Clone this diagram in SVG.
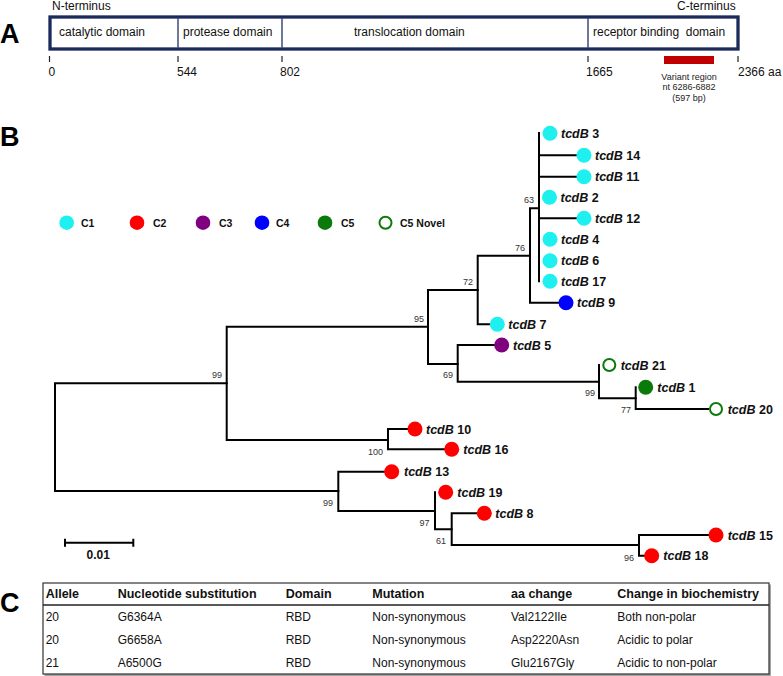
<svg xmlns="http://www.w3.org/2000/svg" width="783" height="676" viewBox="0 0 783 676">
<style>
text{font-family:"Liberation Sans",Arial,sans-serif;}
.pl{font-size:27px;font-weight:bold;fill:#000;}
.dl{font-size:12px;fill:#111;}
.tk{stroke:#222;stroke-width:1.2;}
.vr{font-size:9px;fill:#222;text-anchor:middle;}
.lg{font-size:10.5px;font-weight:bold;fill:#111;}
.lf{font-size:12.5px;font-weight:bold;fill:#111;}
.lf tspan.g{font-style:italic;}
.bs{font-size:9px;fill:#333;text-anchor:end;}
.br{fill:none;stroke:#000;stroke-width:2;stroke-linecap:square;}
.c1{fill:#1ef0f0;}
.c2{fill:#ff0000;}
.c3{fill:#800080;}
.c4{fill:#0000ff;}
.c5{fill:#0a7a0a;}
.cn{fill:#fff;stroke:#0a7a0a;stroke-width:2;}
.th{font-size:12.5px;font-weight:bold;fill:#111;}
.td{font-size:12px;fill:#111;}
</style>
<rect width="783" height="676" fill="#fff"/>

<!-- Panel A -->
<g id="panelA">
<text class="pl" x="0" y="43">A</text>
<text class="dl" x="52" y="9.5">N-terminus</text>
<text class="dl" x="677" y="9.5">C-terminus</text>
<rect x="50" y="17" width="688" height="32" fill="#fff" stroke="#1b2a5a" stroke-width="3.3"/>
<g stroke="#3d4c78" stroke-width="1.5">
<line x1="178" y1="18" x2="178" y2="48"/>
<line x1="282" y1="18" x2="282" y2="48"/>
<line x1="588" y1="18" x2="588" y2="48"/>
</g>
<text class="dl" x="59" y="36">catalytic domain</text>
<text class="dl" x="183" y="36">protease domain</text>
<text class="dl" x="354" y="36">translocation domain</text>
<text class="dl" x="593" y="36" xml:space="preserve">receptor binding  domain</text>
<line class="tk" x1="49.5" y1="56" x2="49.5" y2="62"/>
<line class="tk" x1="178" y1="56" x2="178" y2="62"/>
<line class="tk" x1="282" y1="56" x2="282" y2="62"/>
<line class="tk" x1="588" y1="56" x2="588" y2="62"/>
<line class="tk" x1="738" y1="56" x2="738" y2="62"/>
<text class="dl" x="48.5" y="76">0</text>
<text class="dl" x="177" y="76">544</text>
<text class="dl" x="280" y="76">802</text>
<text class="dl" x="586" y="76">1665</text>
<text class="dl" x="738" y="76">2366 aa</text>
<rect x="664" y="56" width="50" height="8" fill="#c00000"/>
<text class="vr" x="689" y="79.5">Variant region</text>
<text class="vr" x="689" y="90">nt 6286-6882</text>
<text class="vr" x="689" y="100.5">(597 bp)</text>
</g>

<!-- Panel B -->
<text class="pl" x="0" y="145.5">B</text>
<g id="legend">
<circle class="c1" cx="66.7" cy="222.7" r="7.3"/><text class="lg" x="81" y="226.5">C1</text>
<circle class="c2" cx="137" cy="222.7" r="7.3"/><text class="lg" x="153" y="226.5">C2</text>
<circle class="c3" cx="203" cy="222.7" r="7.3"/><text class="lg" x="219" y="226.5">C3</text>
<circle class="c4" cx="262" cy="222.7" r="7.3"/><text class="lg" x="276" y="226.5">C4</text>
<circle class="c5" cx="325" cy="222.7" r="7.3"/><text class="lg" x="341" y="226.5">C5</text>
<circle class="cn" cx="385.5" cy="222.7" r="6"/><text class="lg" x="400" y="226.5">C5 Novel</text>
</g>

<g id="connectors">
<path class="br" d="M55,383.3 V491 M55,383.3 H226.7 M55,491 H338.3"/>
<path class="br" d="M226.7,326.7 V440 M226.7,326.7 H428 M226.7,440 H388"/>
<path class="br" d="M428,290 V364 M428,290 H477.7 M428,364 H457.7"/>
<path class="br" d="M477.7,255.7 V324.3 M477.7,255.7 H530 M477.7,324.3 H490"/>
<path class="br" d="M530,208.3 V302.7 M530,208.3 H539 M530,302.7 H559"/>
<path class="br" d="M539,133 V281.3 M539,155.3 H576 M539,176.7 H576 M539,218.3 H576"/>
<path class="br" d="M457.7,345 V381.7 M457.7,345 H494 M457.7,381.7 H599"/>
<path class="br" d="M599,365 V398.3 M599,398.3 H635.7"/>
<path class="br" d="M635.7,387.3 V409 M635.7,409 H708"/>
<path class="br" d="M388,429 V449.3 M388,429 H407 M388,449.3 H444"/>
<path class="br" d="M338.3,471.7 V511 M338.3,471.7 H384 M338.3,511 H435"/>
<path class="br" d="M435,492.3 V529.3 M435,529.3 H451.7"/>
<path class="br" d="M451.7,513.3 V545 M451.7,513.3 H477 M451.7,545 H639"/>
<path class="br" d="M639,535 V555.7 M639,535 H708 M639,555.7 H644"/>
</g>

<g id="bootstrap">
<text class="bs" x="534" y="203">63</text>
<text class="bs" x="525" y="251">76</text>
<text class="bs" x="473" y="285">72</text>
<text class="bs" x="424" y="321.5">95</text>
<text class="bs" x="222" y="378">99</text>
<text class="bs" x="453" y="378">69</text>
<text class="bs" x="595" y="396">99</text>
<text class="bs" x="631" y="412.7">77</text>
<text class="bs" x="383" y="455">100</text>
<text class="bs" x="333" y="505.7">99</text>
<text class="bs" x="429.5" y="525.7">97</text>
<text class="bs" x="446" y="544">61</text>
<text class="bs" x="634" y="560.7">96</text>
</g>

<g id="tcdB3"><circle class="c1" cx="550" cy="133.3" r="7.5"/><text class="lf" x="561" y="137.8"><tspan class="g">tcdB</tspan> 3</text></g>
<g id="tcdB14"><circle class="c1" cx="584" cy="155.3" r="7.5"/><text class="lf" x="595" y="159.8"><tspan class="g">tcdB</tspan> 14</text></g>
<g id="tcdB11"><circle class="c1" cx="584" cy="176.7" r="7.5"/><text class="lf" x="595" y="181.2"><tspan class="g">tcdB</tspan> 11</text></g>
<g id="tcdB2"><circle class="c1" cx="549.5" cy="197.3" r="7.5"/><text class="lf" x="560.5" y="201.8"><tspan class="g">tcdB</tspan> 2</text></g>
<g id="tcdB12"><circle class="c1" cx="584" cy="218.3" r="7.5"/><text class="lf" x="595" y="222.8"><tspan class="g">tcdB</tspan> 12</text></g>
<g id="tcdB4"><circle class="c1" cx="550" cy="239.3" r="7.5"/><text class="lf" x="561" y="243.8"><tspan class="g">tcdB</tspan> 4</text></g>
<g id="tcdB6"><circle class="c1" cx="550" cy="260.7" r="7.5"/><text class="lf" x="561" y="265.2"><tspan class="g">tcdB</tspan> 6</text></g>
<g id="tcdB17"><circle class="c1" cx="550" cy="281.3" r="7.5"/><text class="lf" x="561" y="285.8"><tspan class="g">tcdB</tspan> 17</text></g>
<g id="tcdB9"><circle class="c4" cx="566" cy="302.7" r="7.5"/><text class="lf" x="577" y="307.2"><tspan class="g">tcdB</tspan> 9</text></g>
<g id="tcdB7"><circle class="c1" cx="497.3" cy="324.3" r="7.5"/><text class="lf" x="508.3" y="328.8"><tspan class="g">tcdB</tspan> 7</text></g>
<g id="tcdB5"><circle class="c3" cx="501.7" cy="345" r="7.5"/><text class="lf" x="513" y="349.5"><tspan class="g">tcdB</tspan> 5</text></g>
<g id="tcdB21"><circle class="cn" cx="609.3" cy="365" r="6"/><text class="lf" x="620.7" y="369.5"><tspan class="g">tcdB</tspan> 21</text></g>
<g id="tcdB1"><circle class="c5" cx="645.7" cy="387.3" r="7.5"/><text class="lf" x="657.3" y="391.8"><tspan class="g">tcdB</tspan> 1</text></g>
<g id="tcdB20"><circle class="cn" cx="716" cy="409" r="6"/><text class="lf" x="727.7" y="413.5"><tspan class="g">tcdB</tspan> 20</text></g>
<g id="tcdB10"><circle class="c2" cx="415" cy="429" r="7.5"/><text class="lf" x="426" y="433.5"><tspan class="g">tcdB</tspan> 10</text></g>
<g id="tcdB16"><circle class="c2" cx="451.7" cy="449.3" r="7.5"/><text class="lf" x="463.3" y="453.8"><tspan class="g">tcdB</tspan> 16</text></g>
<g id="tcdB13"><circle class="c2" cx="391.7" cy="471.7" r="7.5"/><text class="lf" x="404" y="476.2"><tspan class="g">tcdB</tspan> 13</text></g>
<g id="tcdB19"><circle class="c2" cx="445.7" cy="492.3" r="7.5"/><text class="lf" x="457.3" y="496.8"><tspan class="g">tcdB</tspan> 19</text></g>
<g id="tcdB8"><circle class="c2" cx="484.3" cy="513.3" r="7.5"/><text class="lf" x="495.3" y="517.8"><tspan class="g">tcdB</tspan> 8</text></g>
<g id="tcdB15"><circle class="c2" cx="716" cy="535" r="7.5"/><text class="lf" x="727.7" y="539.5"><tspan class="g">tcdB</tspan> 15</text></g>
<g id="tcdB18"><circle class="c2" cx="651.7" cy="555.7" r="7.5"/><text class="lf" x="663.3" y="560.2"><tspan class="g">tcdB</tspan> 18</text></g>

<g id="scalebar">
<path d="M65,542.7 H133.3 M65,538.7 V546.7 M133.3,538.7 V546.7" fill="none" stroke="#000" stroke-width="2"/>
<text x="86.5" y="559" font-size="12" font-weight="bold" fill="#111">0.01</text>
</g>

<!-- Panel C -->
<text class="pl" x="0" y="611.5">C</text>
<g id="table">
<path d="M770,584.5 V675 H44.5" fill="none" stroke="#888" stroke-width="1.5"/>
<rect x="43" y="583" width="726" height="91" fill="none" stroke="#333" stroke-width="1.2"/>
<line x1="43" y1="605" x2="769" y2="605" stroke="#222" stroke-width="1.5"/>
<text class="th" x="45.7" y="598.3">Allele</text>
<text class="th" x="117.7" y="598.3">Nucleotide substitution</text>
<text class="th" x="285.7" y="598.3">Domain</text>
<text class="th" x="372.3" y="598.3">Mutation</text>
<text class="th" x="511" y="598.3">aa change</text>
<text class="th" x="617.3" y="598.3">Change in biochemistry</text>
<text class="td" x="45.7" y="621">20</text>
<text class="td" x="117.7" y="621">G6364A</text>
<text class="td" x="285.7" y="621">RBD</text>
<text class="td" x="372.3" y="621">Non-synonymous</text>
<text class="td" x="511" y="621">Val2122Ile</text>
<text class="td" x="617.3" y="621">Both non-polar</text>
<text class="td" x="45.7" y="644.3">20</text>
<text class="td" x="117.7" y="644.3">G6658A</text>
<text class="td" x="285.7" y="644.3">RBD</text>
<text class="td" x="372.3" y="644.3">Non-synonymous</text>
<text class="td" x="511" y="644.3">Asp2220Asn</text>
<text class="td" x="617.3" y="644.3">Acidic to polar</text>
<text class="td" x="45.7" y="666.7">21</text>
<text class="td" x="117.7" y="666.7">A6500G</text>
<text class="td" x="285.7" y="666.7">RBD</text>
<text class="td" x="372.3" y="666.7">Non-synonymous</text>
<text class="td" x="511" y="666.7">Glu2167Gly</text>
<text class="td" x="617.3" y="666.7">Acidic to non-polar</text>
</g>
</svg>
